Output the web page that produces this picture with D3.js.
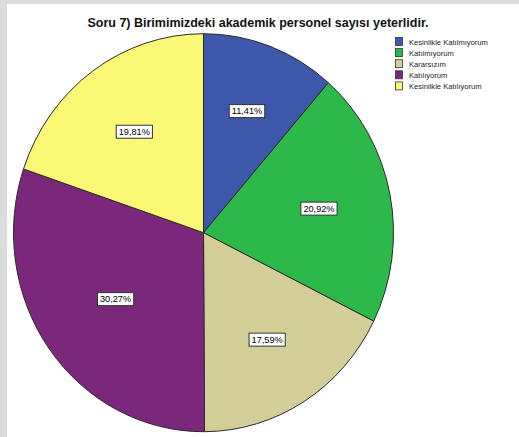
<!DOCTYPE html>
<html>
<head>
<meta charset="utf-8">
<script src="https://cdn.jsdelivr.net/npm/d3@7"></script>
<style>
  html, body { margin: 0; padding: 0; background: #fff; }
  svg { display: block; font-family: "Liberation Sans", Arial, sans-serif; }
</style>
</head>
<body>
<svg id="chart" width="519" height="437"></svg>
<script>
const title = "Soru 7) Birimimizdeki akademik personel sayısı yeterlidir.";
const categories = ["Kesinlikle Katılmıyorum", "Katılmıyorum", "Kararsızım", "Katılıyorum", "Kesinlikle Katılıyorum"];
const values = [11.41, 20.92, 17.59, 30.27, 19.81];
const colors = ["#3d58ab", "#2db84a", "#d3ce98", "#7b287c", "#fbf875"];

const svg = d3.select("#chart");
const W = 519, H = 437;

// frame
svg.append("rect").attr("x", 0).attr("y", 0).attr("width", W).attr("height", H).attr("fill", "#fff");
svg.append("rect").attr("x", 0).attr("y", 0).attr("width", 7).attr("height", H).attr("fill", "#dcdcdc");
svg.append("rect").attr("x", 0).attr("y", 0).attr("width", W).attr("height", 4).attr("fill", "#dcdcdc");

const cx = 203.5, cy = 232.7, rx = 190, ry = 199;

const data = categories.map((c, i) => ({ cat: c, value: values[i], color: colors[i] }));
const pie = d3.pie().sort(null).value(d => d.value).startAngle(0).endAngle(2 * Math.PI);
const arcs = pie(data);
const arc = d3.arc().innerRadius(0).outerRadius(rx);

const g = svg.append("g").attr("transform", `translate(${cx},${cy}) scale(1,${ry / rx})`);
g.selectAll("path").data(arcs).enter().append("path")
  .attr("d", arc)
  .attr("fill", d => d.data.color)
  .attr("stroke", "#2a2a2a")
  .attr("stroke-width", 1)
  .attr("vector-effect", "non-scaling-stroke");

// labels at sector centroid
const fmt = v => v.toFixed(2).replace(".", ",") + "%";
const lg = svg.append("g");
arcs.forEach(a => {
  const half = (a.endAngle - a.startAngle) / 2;
  const mid = a.startAngle + half;
  const dist = rx * 2 * Math.sin(half) / (3 * half);
  const x = cx + dist * Math.sin(mid);
  const y = cy - dist * Math.cos(mid) * ry / rx;
  const t = lg.append("text")
    .attr("x", x).attr("y", y)
    .attr("text-anchor", "middle")
    .attr("dominant-baseline", "central")
    .attr("font-size", 9.2)
    .attr("fill", "#000")
    .text(fmt(a.data.value));
  const w = t.node().getComputedTextLength();
  lg.insert("rect", "text")
    .attr("x", x - w / 2 - 2.5).attr("y", y - 6.5)
    .attr("width", w + 5).attr("height", 13)
    .attr("fill", "#fff")
    .attr("stroke", "#333")
    .attr("stroke-width", 1);
});

// title
svg.append("text")
  .attr("x", 258).attr("y", 27)
  .attr("text-anchor", "middle")
  .attr("font-size", 12.5)
  .attr("font-weight", "bold")
  .attr("fill", "#111")
  .text(title);

// legend
const leg = svg.append("g");
categories.forEach((c, i) => {
  const y = 37 + i * 11.1;
  leg.append("rect")
    .attr("x", 395.5).attr("y", y + 0.5)
    .attr("width", 7).attr("height", 8)
    .attr("fill", colors[i])
    .attr("stroke", "#333").attr("stroke-width", 0.8);
  leg.append("text")
    .attr("x", 409).attr("y", y + 7.5)
    .attr("font-size", 7.6)
    .attr("fill", "#222")
    .text(c);
});
</script>
</body>
</html>
